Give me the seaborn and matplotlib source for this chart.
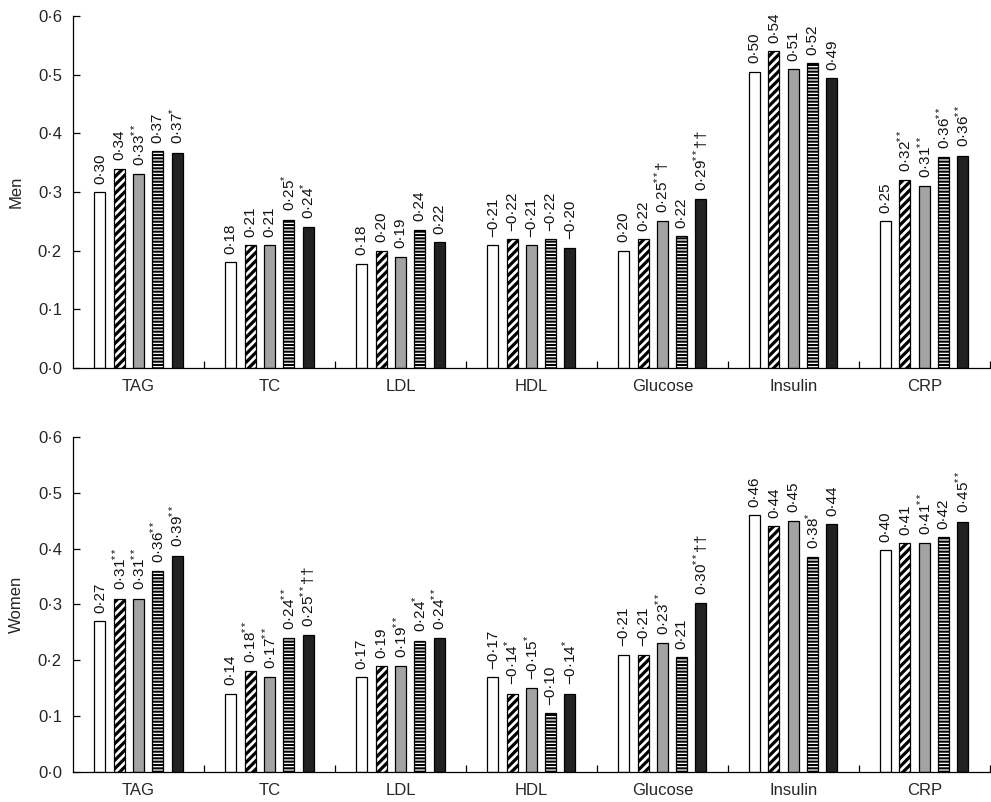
import numpy as np
import pandas as pd
import matplotlib
matplotlib.use("Agg")
import matplotlib.pyplot as plt
import seaborn as sns

categories = ["TAG", "TC", "LDL", "HDL", "Glucose", "Insulin", "CRP"]
levels = ["L1", "L2", "L3", "L4", "L5"]

men_values = [
    [0.30, 0.34, 0.33, 0.37, 0.367],
    [0.18, 0.21, 0.21, 0.253, 0.24],
    [0.178, 0.20, 0.19, 0.236, 0.215],
    [0.21, 0.22, 0.21, 0.22, 0.205],
    [0.20, 0.22, 0.25, 0.225, 0.288],
    [0.505, 0.54, 0.51, 0.52, 0.494],
    [0.25, 0.32, 0.31, 0.36, 0.362],
]
men_labels = [
    ["0·30", "0·34", "0·33$^{**}$", "0·37", "0·37$^{*}$"],
    ["0·18", "0·21", "0·21", "0·25$^{*}$", "0·24$^{*}$"],
    ["0·18", "0·20", "0·19", "0·24", "0·22"],
    ["−0·21", "−0·22", "−0·21", "−0·22", "−0·20"],
    ["0·20", "0·22", "0·25$^{**}$†", "0·22", "0·29$^{**}$††"],
    ["0·50", "0·54", "0·51", "0·52", "0·49"],
    ["0·25", "0·32$^{**}$", "0·31$^{**}$", "0·36$^{**}$", "0·36$^{**}$"],
]
women_values = [
    [0.27, 0.31, 0.31, 0.36, 0.387],
    [0.14, 0.18, 0.17, 0.24, 0.245],
    [0.17, 0.19, 0.19, 0.235, 0.24],
    [0.17, 0.14, 0.15, 0.105, 0.14],
    [0.21, 0.21, 0.23, 0.205, 0.302],
    [0.46, 0.44, 0.45, 0.384, 0.443],
    [0.397, 0.41, 0.41, 0.42, 0.448],
]
women_labels = [
    ["0·27", "0·31$^{**}$", "0·31$^{**}$", "0·36$^{**}$", "0·39$^{**}$"],
    ["0·14", "0·18$^{**}$", "0·17$^{**}$", "0·24$^{**}$", "0·25$^{**}$††"],
    ["0·17", "0·19", "0·19$^{**}$", "0·24$^{*}$", "0·24$^{**}$"],
    ["−0·17", "−0·14$^{*}$", "−0·15$^{*}$", "−0·10", "−0·14$^{*}$"],
    ["−0·21", "−0·21", "0·23$^{**}$", "0·21", "0·30$^{**}$††"],
    ["0·46", "0·44", "0·45", "0·38$^{*}$", "0·44"],
    ["0·40", "0·41", "0·41$^{**}$", "0·42", "0·45$^{**}$"],
]
y_ticks = [0.0, 0.1, 0.2, 0.3, 0.4, 0.5, 0.6]
y_tick_labels = ["0·0", "0·1", "0·2", "0·3", "0·4", "0·5", "0·6"]
panel_names = ["Men", "Women"]

colors = ["#ffffff", "#ffffff", "#a3a3a3", "#ffffff", "#222222"]
hatches = [None, "////", None, "-----", None]
hatch_lw = [None, 2.3, None, 1.5, None]

sns.set_theme(style="white")
plt.rcParams["font.family"] = ["Liberation Sans", "DejaVu Sans"]
plt.rcParams["mathtext.fontset"] = "custom"
plt.rcParams["mathtext.rm"] = "Liberation Sans"
plt.rcParams["mathtext.it"] = "Liberation Sans"
plt.rcParams["hatch.linewidth"] = 1.8
plt.rcParams["hatch.color"] = "black"

fig = plt.figure(figsize=(9.91, 8.02), dpi=100)
ax_top = fig.add_axes([0.0737, 0.541, 0.925, 0.439])
ax_bot = fig.add_axes([0.0737, 0.0374, 0.925, 0.418])

for ax, name, vals, labs in [(ax_top, panel_names[0], men_values, men_labels),
                             (ax_bot, panel_names[1], women_values, women_labels)]:
    rows = []
    for ci, c in enumerate(categories):
        for li, l in enumerate(levels):
            rows.append({"cat": c, "level": l, "value": vals[ci][li]})
    df = pd.DataFrame(rows)
    sns.barplot(data=df, x="cat", y="value", hue="level", order=categories,
                hue_order=levels, palette=colors, edgecolor="black",
                linewidth=0.9, width=0.737, gap=0.43, legend=False, ax=ax,
                saturation=1)
    for li, cont in enumerate(ax.containers):
        for ci, bar in enumerate(cont):
            if hatches[li]:
                bar.set_hatch(hatches[li])
                if hasattr(bar, "set_hatch_linewidth"):
                    bar.set_hatch_linewidth(hatch_lw[li])
            bar.set_facecolor(colors[li])
            bar.set_edgecolor("black")
            x = bar.get_x() + bar.get_width() / 2
            h = bar.get_height()
            ax.annotate(labs[ci][li], (x, h), xytext=(0, 6),
                        textcoords="offset points", rotation=90,
                        ha="center", va="bottom", fontsize=11, color="#111111")
    ax.set_xlim(-0.5, 6.5)
    ax.set_ylim(0, 0.6)
    ax.set_yticks(y_ticks)
    ax.set_yticklabels(y_tick_labels, fontsize=12)
    ax.set_xticks(range(len(categories)))
    ax.set_xticklabels(categories, fontsize=12)
    ax.set_xticks(np.arange(0.5, 7.0, 1.0), minor=True)
    ax.tick_params(axis="x", which="major", length=0, pad=8)
    ax.tick_params(axis="x", which="minor", direction="in", length=5,
                   width=0.9, color="black", bottom=True)
    ax.tick_params(axis="y", direction="in", length=5, width=0.9,
                   color="black", left=True, pad=8)
    ax.set_xlabel("")
    ax.set_ylabel(name, fontsize=12, labelpad=10)
    for s in ["top", "right"]:
        ax.spines[s].set_visible(False)
    for s in ["left", "bottom"]:
        ax.spines[s].set_color("black")
        ax.spines[s].set_linewidth(0.9)
    ax.patch.set_alpha(0)

fig.savefig("out.png", dpi=100)
